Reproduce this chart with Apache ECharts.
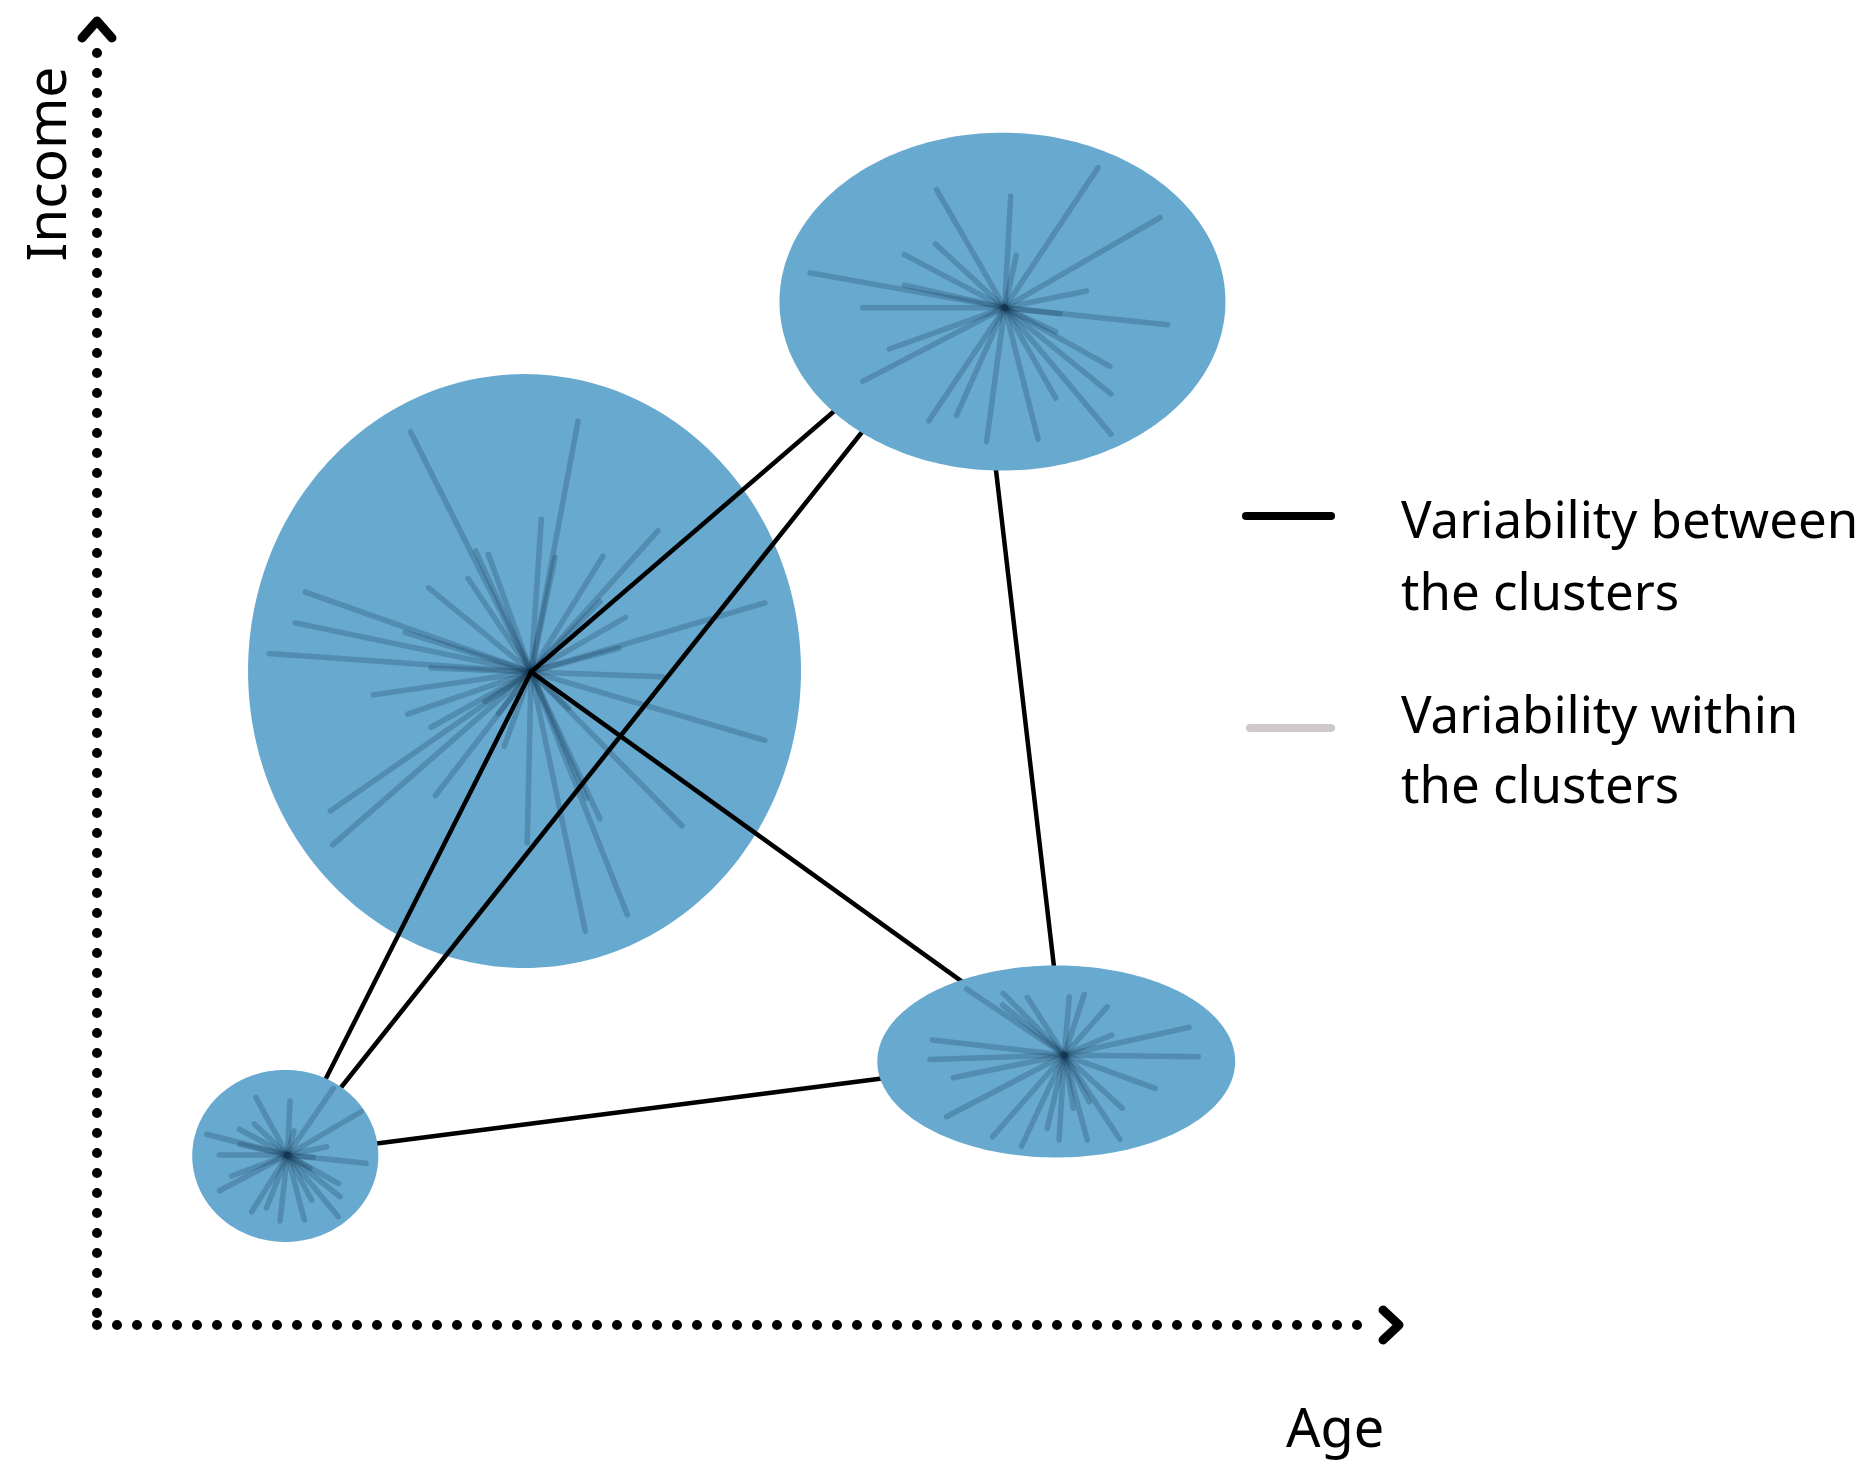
<!DOCTYPE html>
<html>
<head>
<meta charset="utf-8">
<script src="https://cdn.jsdelivr.net/npm/echarts@6/dist/echarts.min.js"></script>
<style>
html,body{margin:0;padding:0;background:#fff;}
#chart{width:1869px;height:1464px;}
</style>
</head>
<body>
<div id="chart"></div>
<script>
// ---- Data (axis units: Age 0..100, Income 0..100) ----
const clusterNames = ['Cluster A', 'Cluster B', 'Cluster C', 'Cluster D'];
const ellipseX  = [33.40, 70.74, 74.94, 14.71];
const ellipseY  = [51.09, 79.95, 20.59, 13.21];
const ellipseRX = [21.60, 17.42, 13.98, 7.27];
const ellipseRY = [23.20, 13.20, 7.50, 6.72];

// points from which within-cluster spokes radiate
const hubX = [33.91, 70.91, 75.57, 14.87];
const hubY = [51.02, 79.48, 21.09, 13.28];

// points joined by the between-cluster lines
const centroidX = [33.91, 68.59, 75.57, 14.87];
const centroidY = [51.02, 80.86, 21.09, 13.28];
const betweenFrom = [0, 3, 1, 0, 0, 3];
const betweenTo   = [1, 1, 2, 2, 3, 2];

// spoke end offsets from hub [dAge, dIncome]
const spokesA = [[-9.41,18.75],[3.67,19.58],[0.80,11.93],[1.88,8.95],[-4.33,9.45],[-3.34,9.19],[-4.92,7.30],[-8.00,6.56],[9.91,11.02],[5.62,9.04],[5.38,5.49],[7.38,4.26],[18.27,5.39],[6.87,1.85],[10.30,-0.37],[18.27,-5.34],[-17.62,6.23],[-18.42,3.83],[-9.84,3.09],[-20.45,1.45],[-7.81,0.31],[-12.33,-1.79],[-9.64,-3.30],[-7.81,-4.32],[-15.68,-10.86],[-15.50,-13.51],[-7.47,-9.65],[-2.09,-5.80],[-3.59,-2.31],[-2.54,-3.23],[-0.30,-13.35],[4.24,-20.26],[7.52,-18.96],[5.38,-11.47],[4.33,-9.87],[11.80,-12.02],[2.93,-2.84]];
const spokesB = [[-5.32,9.23],[0.47,8.71],[7.30,10.94],[12.13,7.03],[0.91,4.09],[-5.40,4.97],[-7.83,4.14],[-15.19,2.72],[-7.83,1.76],[6.39,1.30],[-11.09,0],[4.33,-0.47],[12.73,-1.34],[3.99,-1.89],[8.22,-4.58],[8.30,-6.73],[8.30,-9.88],[3.99,-7.06],[2.61,-10.27],[-1.41,-10.47],[-3.76,-8.41],[-5.92,-8.84],[-11.06,-5.74],[-9.00,-3.23]];
const spokesC = [[-7.63,5.16],[-4.77,4.82],[-4.82,3.91],[-2.89,4.51],[0.39,4.55],[1.56,4.74],[3.36,3.77],[3.70,1.56],[9.74,2.16],[10.47,-0.13],[7.09,-2.60],[4.53,-4.16],[4.35,-6.59],[1.95,-3.65],[0.70,-4.16],[1.80,-6.64],[-0.41,-6.64],[-1.33,-5.73],[-3.34,-7.11],[-5.60,-6.38],[-9.20,-4.82],[-8.67,-1.77],[-10.49,-0.34],[-10.31,1.17]];
const spokesD = [[-2.45,4.48],[0.21,4.22],[3.59,5.21],[5.76,3.38],[0.52,1.88],[3.07,0.65],[-2.58,2.42],[-3.75,2.01],[-6.30,1.62],[-3.70,0.84],[-5.31,0],[2.03,-0.18],[6.15,-0.65],[-4.35,-1.64],[-5.31,-2.79],[-2.79,-4.43],[-1.62,-4.12],[-0.57,-5.16],[1.33,-5.08],[1.90,-3.52],[3.98,-4.82],[4.12,-3.26],[3.98,-2.21],[1.77,-1.04]];

// axis arrow heads (chevrons) in axis units
const arrowAge    = [[100.47, 1.17], [101.72, 0], [100.47, -1.17]];
const arrowIncome = [[-1.17, 100.55], [0, 101.88], [1.17, 100.55]];

const xAxisName = 'Age';
const yAxisName = 'Income';
const legendBetween = ['Variability between', 'the clusters'];
const legendWithin  = ['Variability within', 'the clusters'];

// ---- Build series data ----
function ellipseItem(i) { return [ellipseX[i], ellipseY[i], ellipseRX[i], ellipseRY[i]]; }
function spokeItems(i, offs) {
  return offs.map(o => [hubX[i], hubY[i], hubX[i] + o[0], hubY[i] + o[1]]);
}
const betweenData = betweenFrom.map((f, k) => [centroidX[f], centroidY[f], centroidX[betweenTo[k]], centroidY[betweenTo[k]]]);
const arrowData = [arrowAge, arrowIncome].map(a => [a[0][0], a[0][1], a[1][0], a[1][1], a[2][0], a[2][1]]);

const FONT = '"Noto Sans", "Open Sans", sans-serif';
const BLUE = '#67a9cf';
const SPOKE = 'rgba(20,55,85,0.25)';

function renderEllipse(params, api) {
  const c = api.coord([api.value(0), api.value(1)]);
  const s = api.size([api.value(2) * 2, api.value(3) * 2], [api.value(0), api.value(1)]);
  const rx = s[0] / 2, ry = s[1] / 2;
  const pts = [];
  for (let i = 0; i < 240; i++) {
    const a = i / 240 * Math.PI * 2;
    pts.push([c[0] + rx * Math.cos(a), c[1] + ry * Math.sin(a)]);
  }
  return { type: 'polygon', shape: { points: pts }, style: { fill: BLUE } };
}
function makeLineRenderer(stroke, width) {
  return function (params, api) {
    const p1 = api.coord([api.value(0), api.value(1)]);
    const p2 = api.coord([api.value(2), api.value(3)]);
    return { type: 'line', shape: { x1: p1[0], y1: p1[1], x2: p2[0], y2: p2[1] },
      style: { stroke: stroke, lineWidth: width, lineCap: 'round' } };
  };
}
function renderArrow(params, api) {
  const pts = [0, 2, 4].map(k => api.coord([api.value(k), api.value(k + 1)]));
  return { type: 'polyline', shape: { points: pts },
    style: { stroke: '#000', fill: null, lineWidth: 9, lineCap: 'round', lineJoin: 'round' } };
}

const axisCommon = {
  type: 'value', min: 0, max: 100,
  axisTick: { show: false }, axisLabel: { show: false }, splitLine: { show: false }
};

const option = {
  animation: false,
  backgroundColor: '#fff',
  grid: { left: 97, top: 45, width: 1280, height: 1280 },
  xAxis: Object.assign({}, axisCommon, {
    axisLine: { show: true, onZero: false, lineStyle: { color: '#000', width: 10, type: [0, 20], cap: 'round' } }
  }),
  yAxis: Object.assign({}, axisCommon, {
    axisLine: { show: true, onZero: false, lineStyle: { color: '#000', width: 10, type: [0, 20], cap: 'round', dashOffset: 8 } }
  }),
  series: [
    { type: 'custom', name: clusterNames[0], z: 1, clip: false, data: [ellipseItem(0)], renderItem: renderEllipse, silent: true },
    { type: 'custom', name: 'Variability within the clusters', z: 2, clip: false, data: spokeItems(0, spokesA), renderItem: makeLineRenderer(SPOKE, 5.5), silent: true },
    { type: 'custom', name: 'Variability between the clusters', z: 3, clip: false, data: betweenData, renderItem: makeLineRenderer('#000', 4.5), silent: true },
    { type: 'custom', name: 'Clusters B-D', z: 4, clip: false, data: [ellipseItem(1), ellipseItem(2), ellipseItem(3)], renderItem: renderEllipse, silent: true },
    { type: 'custom', name: 'Variability within (B-D)', z: 5, clip: false,
      data: spokeItems(1, spokesB).concat(spokeItems(2, spokesC), spokeItems(3, spokesD)),
      renderItem: makeLineRenderer(SPOKE, 5.5), silent: true },
    { type: 'custom', name: 'Axis arrows', z: 6, clip: false, data: arrowData, renderItem: renderArrow, silent: true }
  ],
  graphic: [
    { type: 'text', x: 1335, y: 1432, style: { text: xAxisName, font: '54px ' + FONT, fill: '#000', align: 'center', verticalAlign: 'middle' } },
    { type: 'text', x: 50, y: 164, rotation: Math.PI / 2, style: { text: yAxisName, font: '55px ' + FONT, fill: '#000', align: 'center', verticalAlign: 'middle' } },
    { type: 'line', shape: { x1: 1246, y1: 516, x2: 1331, y2: 516 }, style: { stroke: '#000', lineWidth: 8, lineCap: 'round' } },
    { type: 'line', shape: { x1: 1250, y1: 728, x2: 1331, y2: 728 }, style: { stroke: '#d0c9ca', lineWidth: 8, lineCap: 'round' } },
    { type: 'text', x: 1401, y: 523, style: { text: legendBetween[0], font: '51px ' + FONT, fill: '#000', align: 'left', verticalAlign: 'middle' } },
    { type: 'text', x: 1401, y: 595, style: { text: legendBetween[1], font: '51px ' + FONT, fill: '#000', align: 'left', verticalAlign: 'middle' } },
    { type: 'text', x: 1401, y: 718, style: { text: legendWithin[0], font: '51px ' + FONT, fill: '#000', align: 'left', verticalAlign: 'middle' } },
    { type: 'text', x: 1401, y: 788, style: { text: legendWithin[1], font: '51px ' + FONT, fill: '#000', align: 'left', verticalAlign: 'middle' } }
  ]
};

const chart = echarts.init(document.getElementById('chart'), null, { renderer: 'canvas' });
chart.setOption(option);
</script>
</body>
</html>
